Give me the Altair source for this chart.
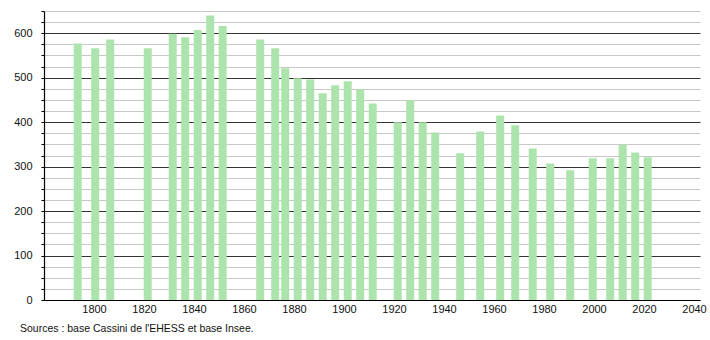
import altair as alt
import pandas as pd

years = [1793, 1800, 1806, 1821, 1831, 1836, 1841, 1846, 1851, 1866, 1872, 1876,
         1881, 1886, 1891, 1896, 1901, 1906, 1911, 1921, 1926, 1931, 1936, 1946,
         1954, 1962, 1968, 1975, 1982, 1990, 1999, 2006, 2011, 2016, 2021]
population = [577, 566, 586, 566, 599, 591, 607, 640, 616, 586, 566, 521,
              499, 496, 465, 483, 492, 474, 442, 400, 449, 400, 377, 330,
              379, 415, 393, 341, 307, 292, 319, 319, 350, 332, 321]
y_ticks = list(range(0, 651, 25))
x_ticks = list(range(1800, 2041, 20))
source_text = "Sources : base Cassini de l'EHESS et base Insee."

df = pd.DataFrame({"year": years, "pop": population})
FONT = "Liberation Sans"

bars = alt.Chart(df).mark_bar(color="#ade4ad", width=8, clip=False).encode(
    x=alt.X("year:Q",
            scale=alt.Scale(domain=[1780, 2042.4], nice=False, zero=False, padding=0),
            axis=alt.Axis(values=x_ticks, format="d", title=None, grid=False,
                          ticks=False, labelPadding=3, labelFontSize=11,
                          labelColor="#111", labelFont=FONT,
                          domainColor="#000", domainWidth=1.2)),
    y=alt.Y("pop:Q",
            scale=alt.Scale(domain=[0, 650], nice=False, padding=0),
            axis=alt.Axis(values=y_ticks, title=None, grid=True,
                          gridColor={"condition": {"test": "datum.value % 100 === 0", "value": "#333333"}, "value": "#c8c8c8"},
                          gridWidth=1,
                          labelExpr="datum.value % 100 === 0 ? datum.label : ''",
                          tickSize=3, tickColor="#000", labelPadding=9,
                          labelFontSize=11, labelColor="#111", labelFont=FONT,
                          domainColor="#000", domainWidth=1.2)),
    xOffset=alt.value(1.2),
)

src = alt.Chart(pd.DataFrame({"t": [source_text]})).mark_text(
    align="left", baseline="middle", fontSize=10.5, font=FONT, color="#111"
).encode(text="t:N", x=alt.value(-24), y=alt.value(318))

chart = alt.layer(bars, src).properties(
    width=656, height=289,
    autosize=alt.AutoSizeParams(type="none"),
    padding={"left": 44, "top": 11, "right": 10, "bottom": 40},
).configure_view(stroke=None)

chart.save("out.html", embed_options={"renderer": "svg", "actions": False})
